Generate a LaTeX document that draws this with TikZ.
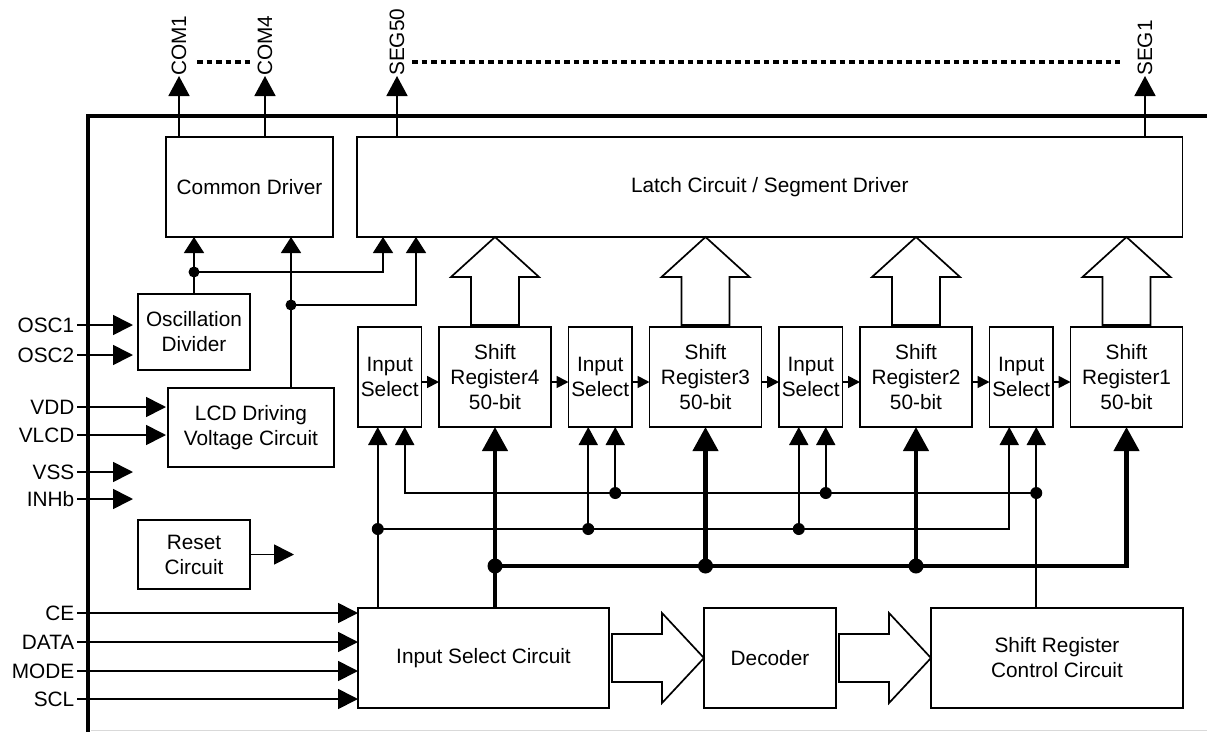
\documentclass[tikz,border=0pt]{standalone}
\usepackage{fontspec}
\setmainfont{Liberation Sans}
\usetikzlibrary{arrows.meta,positioning}
\newcommand{\fatup}[1]{\draw[hollow] ([shift={(-24pt,2pt)}]#1.north) -- ++(0,-48) -- ++(-20,0) -- ++(44,-40) -- ++(44,40) -- ++(-20,0) -- ++(0,48) -- cycle;}
\newcommand{\fatright}[1]{\draw[hollow] ([shift={(3pt,24pt)}]#1.east) -- ++(50,0) -- ++(0,-21) -- ++(42,45) -- ++(-42,45) -- ++(0,-21) -- ++(-50,0) -- cycle;}

\begin{document}
\begin{tikzpicture}[x=1pt,y=-1pt,
  font=\fontsize{20.8}{25}\selectfont,
  node distance=17.5pt,
  block/.style={rectangle,draw=black,line width=1.7pt,inner sep=0pt,outer sep=0pt,align=center},
  insel/.style={block,minimum width=63.5pt,minimum height=100pt},
  shreg/.style={block,minimum width=112pt,minimum height=100pt},
  pinlabel/.style={anchor=east,inner sep=2.5pt},
  toplabel/.style={rotate=90,anchor=west,inner sep=0pt},
  toparrow/.style={line width=1.7pt,-{Triangle[length=20pt,width=21pt]}},
  sig/.style={line width=1.7pt,-{Triangle[length=16pt,width=20pt]}},
  pinarrow/.style={line width=1.7pt,-{Triangle[length=20pt,width=20pt]}},
  selarrow/.style={line width=1.7pt,-{Triangle[length=18pt,width=19pt]}},
  busarrow/.style={line width=4.2pt,-{Triangle[length=24pt,width=25pt]}},
  shiftarrow/.style={line width=1.7pt,-{Triangle[length=12pt,width=12pt]}},
  dotline/.style={line width=4.5pt,dash pattern=on 5.5pt off 4pt},
  hollow/.style={line width=1.7pt,fill=white,line join=miter}]

  \useasboundingbox (0,0) rectangle (1207,731);

  % chip outline
  \draw[line width=3.6pt] (88,733) -- (88,116) -- (1209,116);
  \draw[black!15,line width=1pt] (91,730) -- (1207,730);

  % blocks
  \node[block,minimum width=167pt,minimum height=100pt] (comdrv) at (249.5,187) {Common Driver};
  \node[block,minimum width=825.5pt,minimum height=100pt] (latch) at (769.75,187) {Latch Circuit / Segment Driver};
  \node[block,minimum width=112pt,minimum height=76pt] (oscdiv) at (194,332) {Oscillation\\Divider};
  \node[block,minimum width=166pt,minimum height=79pt] (lcddrv) at (251,427.5) {LCD Driving\\Voltage Circuit};
  \node[block,minimum width=112pt,minimum height=69pt] (reset) at (194,554.5) {Reset\\Circuit};

  \node[insel] (is4) at (389.75,377) {Input\\Select};
  \node[shreg] (sr4) [right=of is4] {Shift\\Register4\\50-bit};
  \node[insel] (is3) [right=of sr4] {Input\\Select};
  \node[shreg] (sr3) [right=of is3] {Shift\\Register3\\50-bit};
  \node[insel] (is2) [right=of sr3] {Input\\Select};
  \node[shreg] (sr2) [right=of is2] {Shift\\Register2\\50-bit};
  \node[insel] (is1) [right=of sr2] {Input\\Select};
  \node[shreg] (sr1) [right=of is1] {Shift\\Register1\\50-bit};

  \node[block,minimum width=251pt,minimum height=100pt] (isc) at (483.5,658) {Input Select Circuit};
  \node[block,minimum width=132pt,minimum height=100pt] (dec) [right=95pt of isc] {Decoder};
  \node[block,minimum width=252pt,minimum height=100pt] (srctl) [right=95pt of dec] {Shift Register\\Control Circuit};

  % pins
  \node[toplabel] (com1) at (179,76) {COM1};
  \node[toplabel] (com4) at (265,76) {COM4};
  \node[toplabel] (seg50) at (397,76) {SEG50};
  \node[toplabel] (seg1) at (1145,76) {SEG1};

  \node[pinlabel] (osc1) at (77,325) {OSC1};
  \node[pinlabel] (osc2) at (77,355) {OSC2};
  \node[pinlabel] (vdd) at (77,407) {VDD};
  \node[pinlabel] (vlcd) at (77,435) {VLCD};
  \node[pinlabel] (vss) at (77,472) {VSS};
  \node[pinlabel] (inhb) at (77,499) {INHb};
  \node[pinlabel] (ce) at (77,613) {CE};
  \node[pinlabel] (data) at (77,642) {DATA};
  \node[pinlabel] (mode) at (77,671) {MODE};
  \node[pinlabel] (scl) at (77,699) {SCL};

  \draw[toparrow] (com1 |- comdrv.north) -- (com1.west);
  \draw[toparrow] (com4 |- comdrv.north) -- (com4.west);
  \draw[toparrow] (seg50 |- latch.north) -- (seg50.west);
  \draw[toparrow] (seg1 |- latch.north) -- (seg1.west);
  \draw[dotline] ([shift={(18pt,14pt)}]com1.west) -- ([shift={(-12pt,14pt)}]com4.west);
  \draw[dotline] ([shift={(15pt,14pt)}]seg50.west) -- ([shift={(-25pt,14pt)}]seg1.west);

  \draw[pinarrow,shorten >=5pt] (osc1.east) -- (osc1.east -| oscdiv.west);
  \draw[pinarrow,shorten >=5pt] (osc2.east) -- (osc2.east -| oscdiv.west);
  \draw[pinarrow,shorten >=2pt] (vdd.east) -- (vdd.east -| lcddrv.west);
  \draw[pinarrow,shorten >=2pt] (vlcd.east) -- (vlcd.east -| lcddrv.west);
  \draw[pinarrow,shorten >=5pt] (vss.east) -- (vss.east -| oscdiv.west);
  \draw[pinarrow,shorten >=5pt] (inhb.east) -- (inhb.east -| oscdiv.west);
  \draw[pinarrow] (ce.east) -- (ce.east -| isc.west);
  \draw[pinarrow] (data.east) -- (data.east -| isc.west);
  \draw[pinarrow] (mode.east) -- (mode.east -| isc.west);
  \draw[pinarrow] (scl.east) -- (scl.east -| isc.west);

  \coordinate (rstout) at ([xshift=44pt]reset.east);
  \draw[pinarrow] (reset.east) -- (rstout);

  % clock and drive voltage
  \coordinate (d1) at ([yshift=22pt]oscdiv.north);
  \coordinate (d2) at ([shift={(40pt,83pt)}]lcddrv.north);
  \coordinate (lt1) at ([xshift=26pt]latch.south west);
  \coordinate (lt2) at ([xshift=59pt]latch.south west);
  \draw[sig] (oscdiv.north) -- (oscdiv.north |- comdrv.south);
  \draw[sig] (d1) -| (lt1);
  \draw[sig] (d2 |- lcddrv.north) -- (d2 |- comdrv.south);
  \draw[sig] (d2) -| (lt2);
  \fill (d1) circle (5.5pt) (d2) circle (5.5pt);

  % shift register chain
  \draw[shiftarrow] ([yshift=-5pt]is4.east) -- ([yshift=-5pt]sr4.west);
  \draw[shiftarrow] ([yshift=-5pt]sr4.east) -- ([yshift=-5pt]is3.west);
  \draw[shiftarrow] ([yshift=-5pt]is3.east) -- ([yshift=-5pt]sr3.west);
  \draw[shiftarrow] ([yshift=-5pt]sr3.east) -- ([yshift=-5pt]is2.west);
  \draw[shiftarrow] ([yshift=-5pt]is2.east) -- ([yshift=-5pt]sr2.west);
  \draw[shiftarrow] ([yshift=-5pt]sr2.east) -- ([yshift=-5pt]is1.west);
  \draw[shiftarrow] ([yshift=-5pt]is1.east) -- ([yshift=-5pt]sr1.west);

  \fatup{sr4}
  \fatup{sr3}
  \fatup{sr2}
  \fatup{sr1}
  \fatright{isc}
  \fatright{dec}

  % select lines and data bus
  \coordinate (la) at (0,529);
  \coordinate (lb) at (0,493);
  \coordinate (lbus) at (0,566);
  \coordinate (is4a) at ([xshift=-12pt]is4.south);
  \coordinate (is4b) at ([xshift=15pt]is4.south);
  \coordinate (is3a) at ([xshift=-12pt]is3.south);
  \coordinate (is3b) at ([xshift=15pt]is3.south);
  \coordinate (is2a) at ([xshift=-12pt]is2.south);
  \coordinate (is2b) at ([xshift=15pt]is2.south);
  \coordinate (is1a) at ([xshift=-12pt]is1.south);
  \coordinate (is1b) at ([xshift=15pt]is1.south);

  \draw[selarrow] (isc.north -| is4a) -- (is4a);
  \draw[selarrow] (is4a |- la) -| (is1a);
  \draw[selarrow] (is3a |- la) -- (is3a);
  \draw[selarrow] (is2a |- la) -- (is2a);
  \draw[selarrow] (srctl.north -| is1b) -- (is1b);
  \draw[selarrow] (is1b |- lb) -| (is4b);
  \draw[selarrow] (is3b |- lb) -- (is3b);
  \draw[selarrow] (is2b |- lb) -- (is2b);
  \fill (is4a |- la) circle (6pt) (is3a |- la) circle (6pt) (is2a |- la) circle (6pt);
  \fill (is3b |- lb) circle (6pt) (is2b |- lb) circle (6pt) (is1b |- lb) circle (6pt);

  \draw[busarrow] (isc.north -| sr4) -- (sr4.south);
  \draw[busarrow] (sr4 |- lbus) -| (sr1.south);
  \draw[busarrow] (sr3 |- lbus) -- (sr3.south);
  \draw[busarrow] (sr2 |- lbus) -- (sr2.south);
  \fill (sr4 |- lbus) circle (7.5pt) (sr3 |- lbus) circle (7.5pt) (sr2 |- lbus) circle (7.5pt);
\end{tikzpicture}
\end{document}
